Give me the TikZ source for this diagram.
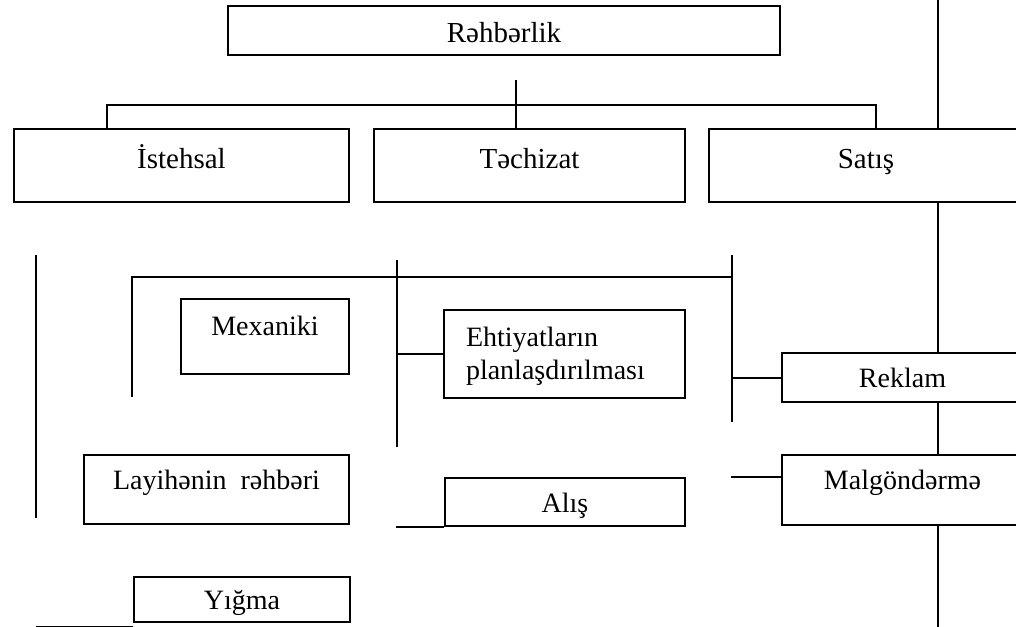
\documentclass[tikz,border=0pt]{standalone}
\usepackage{fontspec}
\setmainfont{Liberation Serif}
\tikzset{
  orgbox/.style={
    draw=black,
    line width=1pt,
    anchor=north west,
    inner sep=0pt,
    align=center,
    text height=10pt,
    text depth=0pt,
    font=\fontsize{14}{16.5}\selectfont
  },
  headbox/.style={orgbox, font=\fontsize{14.5}{17}\selectfont, text depth=7.5pt},
  link/.style={line width=1pt}
}
\begin{document}
\begin{tikzpicture}[x=0.5pt, y=-0.5pt]
        \useasboundingbox (0,0) rectangle (1016,626);
        \clip (0,0) rectangle (1016,626);
        \node[headbox, text height=12pt, text depth=0pt, minimum width=276pt, minimum height=24.5pt] (rahb) at (227,5) {Rəhbərlik};
        \node[headbox, minimum width=167.5pt, minimum height=36.5pt] (ist) at (13,128) {İstehsal};
        \node[headbox, minimum width=155.5pt, minimum height=36.5pt] (tech) at (373,128) {Təchizat};
        \node[headbox, minimum width=157pt, minimum height=36.5pt] (sat) at (708,128) {Satış};
        \node[orgbox, text depth=11.5pt, minimum width=84pt, minimum height=37.5pt] (mex) at (180,298) {Mexaniki};
        \node[orgbox, align=left, text width=98.5pt, inner xsep=11pt, text depth=18pt, minimum height=44pt] (eht) at (443,309) {Ehtiyatların\\planlaşdırılması};
        \node[orgbox, minimum width=120.5pt, minimum height=24.5pt] (rekl) at (781,352) {Reklam};
        \node[orgbox, text depth=10.5pt, minimum width=132.5pt, minimum height=34.5pt] (lay) at (83,454) {Layihənin~~rəhbəri};
        \node[orgbox, minimum width=120pt, minimum height=24pt] (alis) at (444,477) {Alış};
        \node[orgbox, text depth=11pt, minimum width=120.5pt, minimum height=35pt] (malg) at (781,454) {Malgöndərmə};
        \node[orgbox, minimum width=108pt, minimum height=22.5pt] (yig) at (133,576) {Yığma};
        \coordinate (top) at (516,80);
        \coordinate (busl) at (107,105);
        \coordinate (busr) at (876,105);
        \coordinate (spine) at (938,-5);
        \coordinate (side) at (36,255);
        \coordinate (brl) at (132,397);
        \coordinate (bar) at (132,277);
        \coordinate (brm) at (397,260);
        \coordinate (brr) at (732,255);
        \draw[link] (top) -- (top |- tech.north);
        \draw[link] (busl |- ist.north) -- (busl) -- (busr) -- (busr |- sat.north);
        \draw[link] (spine) -- (spine |- sat.north);
        \draw[link] (spine |- sat.south) -- (spine |- rekl.north);
        \draw[link] (spine |- rekl.south) -- (spine |- malg.north);
        \draw[link] (spine |- malg.south) -- ++(0,110);
        \draw[link] (side) -- ++(0,263);
        \draw[link] (brl) -- (bar) -- (bar -| brr);
        \draw[link] (brr) -- ++(0,167);
        \draw[link] (brm) -- ++(0,187);
        \draw[link] (brm |- eht.west) -- (eht.west);
        \draw[link] (brr |- rekl.west) -- (rekl.west);
        \draw[link] ([yshift=6.5pt]malg.west) -- ++(-50,0);
        \draw[link] (alis.south west) -- ++(-48,0);
        \draw[link] ([yshift=-2pt]yig.south west) -- ++(-97,0);
      \end{tikzpicture}
\end{document}
